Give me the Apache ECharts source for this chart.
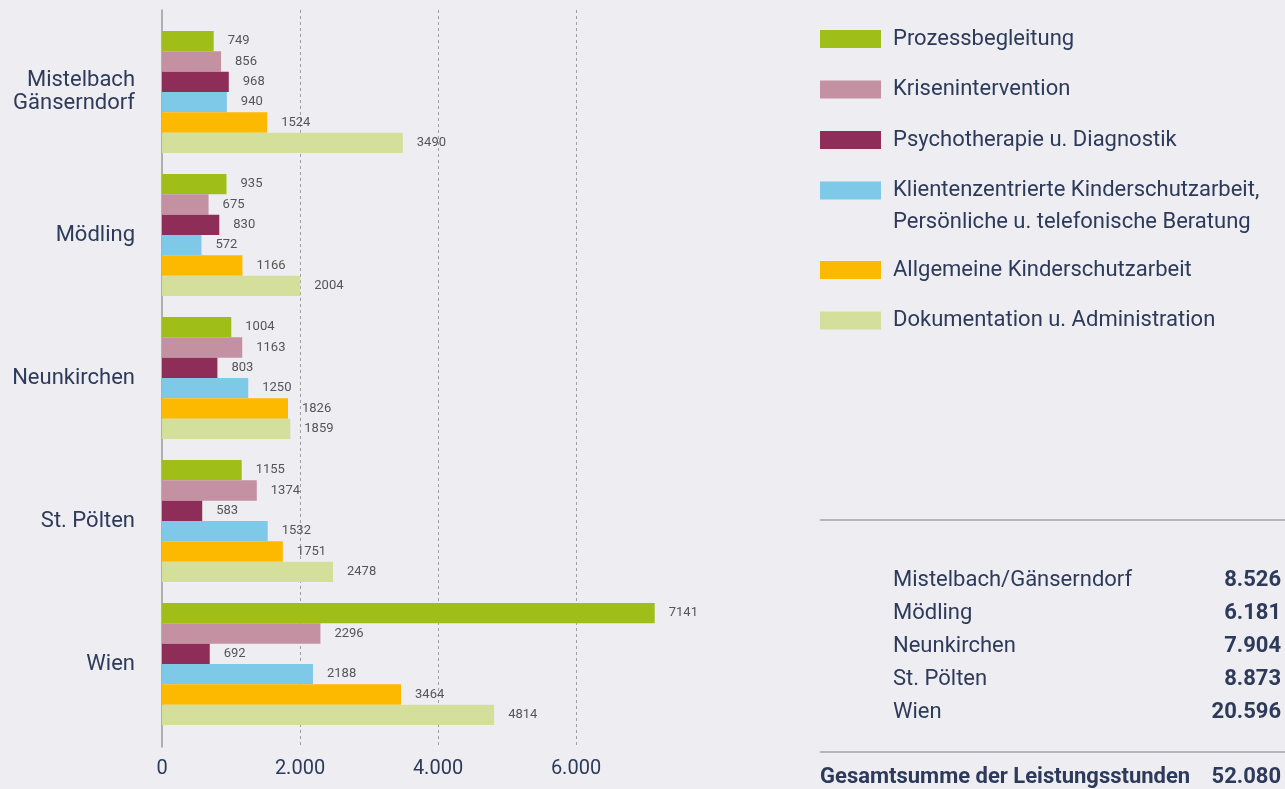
<!DOCTYPE html>
<html>
<head>
<meta charset="utf-8">
<style>
html,body{margin:0;padding:0;background:#eeeef2;}
#c{width:1285px;height:789px;}
</style>
<script src="https://cdn.jsdelivr.net/npm/echarts@6/dist/echarts.min.js"></script>
</head>
<body>
<div id="c"></div>
<script>
const categories = ['Mistelbach\nGänserndorf', 'Mödling', 'Neunkirchen', 'St. Pölten', 'Wien'];
const seriesNames = [
  'Prozessbegleitung',
  'Krisenintervention',
  'Psychotherapie u. Diagnostik',
  'Klientenzentrierte Kinderschutzarbeit, Persönliche u. telefonische Beratung',
  'Allgemeine Kinderschutzarbeit',
  'Dokumentation u. Administration'
];
const prozess = [749, 935, 1004, 1155, 7141];
const krisen = [856, 675, 1163, 1374, 2296];
const psycho = [968, 830, 803, 583, 692];
const klienten = [940, 572, 1250, 1532, 2188];
const allgemein = [1524, 1166, 1826, 1751, 3464];
const doku = [3490, 2004, 1859, 2478, 4814];
const xTicks = [0, 2000, 4000, 6000];
const tableNames = ['Mistelbach/Gänserndorf', 'Mödling', 'Neunkirchen', 'St. Pölten', 'Wien'];
const tableTotals = [8526, 6181, 7904, 8873, 20596];
const grandLabel = 'Gesamtsumme der Leistungsstunden';
const grandTotal = 52080;

const colors = ['#a0be18', '#c491a3', '#8e2d58', '#7ec8e8', '#fdb900', '#d4df9b'];
const navy = '#2d3a5a';
const FONT = 'Roboto';
const FS = 22;
const seriesData = [prozess, krisen, psycho, klienten, allgemein, doku];

function fmt(v) {
  return String(v).replace(/\B(?=(\d{3})+(?!\d))/g, '.');
}

const chart = echarts.init(document.getElementById('c'), null, {renderer: 'canvas'});

const series = seriesData.map((d, i) => ({
  name: seriesNames[i],
  type: 'bar',
  xAxisIndex: 0,
  yAxisIndex: 0,
  data: d,
  barGap: '0%',
  barCategoryGap: '14.7%',
  itemStyle: {color: colors[i]},
  label: {show: true, position: 'right', distance: 14, fontSize: 13, color: '#555', fontFamily: FONT},
  emphasis: {disabled: true},
  animation: false
}));
series.push({type: 'line', xAxisIndex: 1, yAxisIndex: 1, data: [], silent: true});

const graphics = [];
graphics.push({type: 'text', x: 893, y: 222, style: {text: 'Persönliche u. telefonische Beratung', fontSize: FS, fontFamily: FONT, fill: navy, verticalAlign: 'middle'}});
graphics.push({type: 'line', shape: {x1: 820, y1: 520, x2: 1285, y2: 520}, style: {stroke: '#a3a3a5', lineWidth: 1.5}});
graphics.push({type: 'line', shape: {x1: 820, y1: 752, x2: 1285, y2: 752}, style: {stroke: '#a3a3a5', lineWidth: 1.5}});
tableNames.forEach((n, i) => {
  const y = 580 + i * 33;
  graphics.push({type: 'text', x: 893, y: y, style: {text: n, fontSize: FS, fontFamily: FONT, fill: navy, verticalAlign: 'middle', align: 'left'}});
  graphics.push({type: 'text', x: 1281, y: y, style: {text: fmt(tableTotals[i]), fontSize: FS, fontWeight: 'bold', fontFamily: FONT, fill: navy, verticalAlign: 'middle', align: 'right'}});
});
graphics.push({type: 'text', x: 820, y: 777, style: {text: grandLabel, fontSize: FS, fontWeight: 'bold', fontFamily: FONT, fill: navy, verticalAlign: 'middle', align: 'left'}});
graphics.push({type: 'text', x: 1281, y: 777, style: {text: fmt(grandTotal), fontSize: FS, fontWeight: 'bold', fontFamily: FONT, fill: navy, verticalAlign: 'middle', align: 'right'}});

const legendCommon = {
  orient: 'vertical', left: 820, itemWidth: 61, itemHeight: 18, itemGap: 28.5, icon: 'rect',
  padding: 0, selectedMode: false,
  textStyle: {fontSize: FS, fontFamily: FONT, color: navy, padding: [0, 0, 0, 7]},
  formatter: n => n.indexOf('Klienten') === 0 ? n.split(' Pers')[0] : n
};

chart.setOption({
  backgroundColor: '#eeeef2',
  animation: false,
  textStyle: {fontFamily: FONT},
  grid: [
    {left: 162, top: 20.5, height: 715, width: 552, containLabel: false},
    {left: 162, top: 10, height: 737, width: 552, containLabel: false}
  ],
  legend: [
    Object.assign({}, legendCommon, {top: 28, data: seriesNames.slice(0, 4)}),
    Object.assign({}, legendCommon, {top: 259, data: seriesNames.slice(4)})
  ],
  xAxis: [
    {type: 'value', gridIndex: 0, min: 0, max: 8000, show: false},
    {type: 'value', gridIndex: 1, min: 0, max: 8000, interval: 2000,
      axisLine: {show: false}, axisTick: {show: false},
      axisLabel: {show: true, fontSize: 20, color: navy, margin: 12, fontFamily: FONT, showMaxLabel: false,
        formatter: v => fmt(v)},
      splitLine: {show: true, showMinLine: false, showMaxLine: false, lineStyle: {color: '#a0a0a0', type: [3, 3], width: 1}}
    }
  ],
  yAxis: [
    {type: 'category', gridIndex: 0, data: categories, inverse: true,
      axisLine: {show: false}, axisTick: {show: false},
      axisLabel: {fontSize: FS, color: navy, margin: 27, lineHeight: 23, fontFamily: FONT, align: 'right'}
    },
    {type: 'value', gridIndex: 1, min: 0, max: 1,
      axisLine: {show: true, onZero: false, lineStyle: {color: '#9a9a9a', width: 1.5}},
      axisTick: {show: false}, axisLabel: {show: false}, splitLine: {show: false}
    }
  ],
  series: series,
  graphic: graphics
});
</script>
</body>
</html>
